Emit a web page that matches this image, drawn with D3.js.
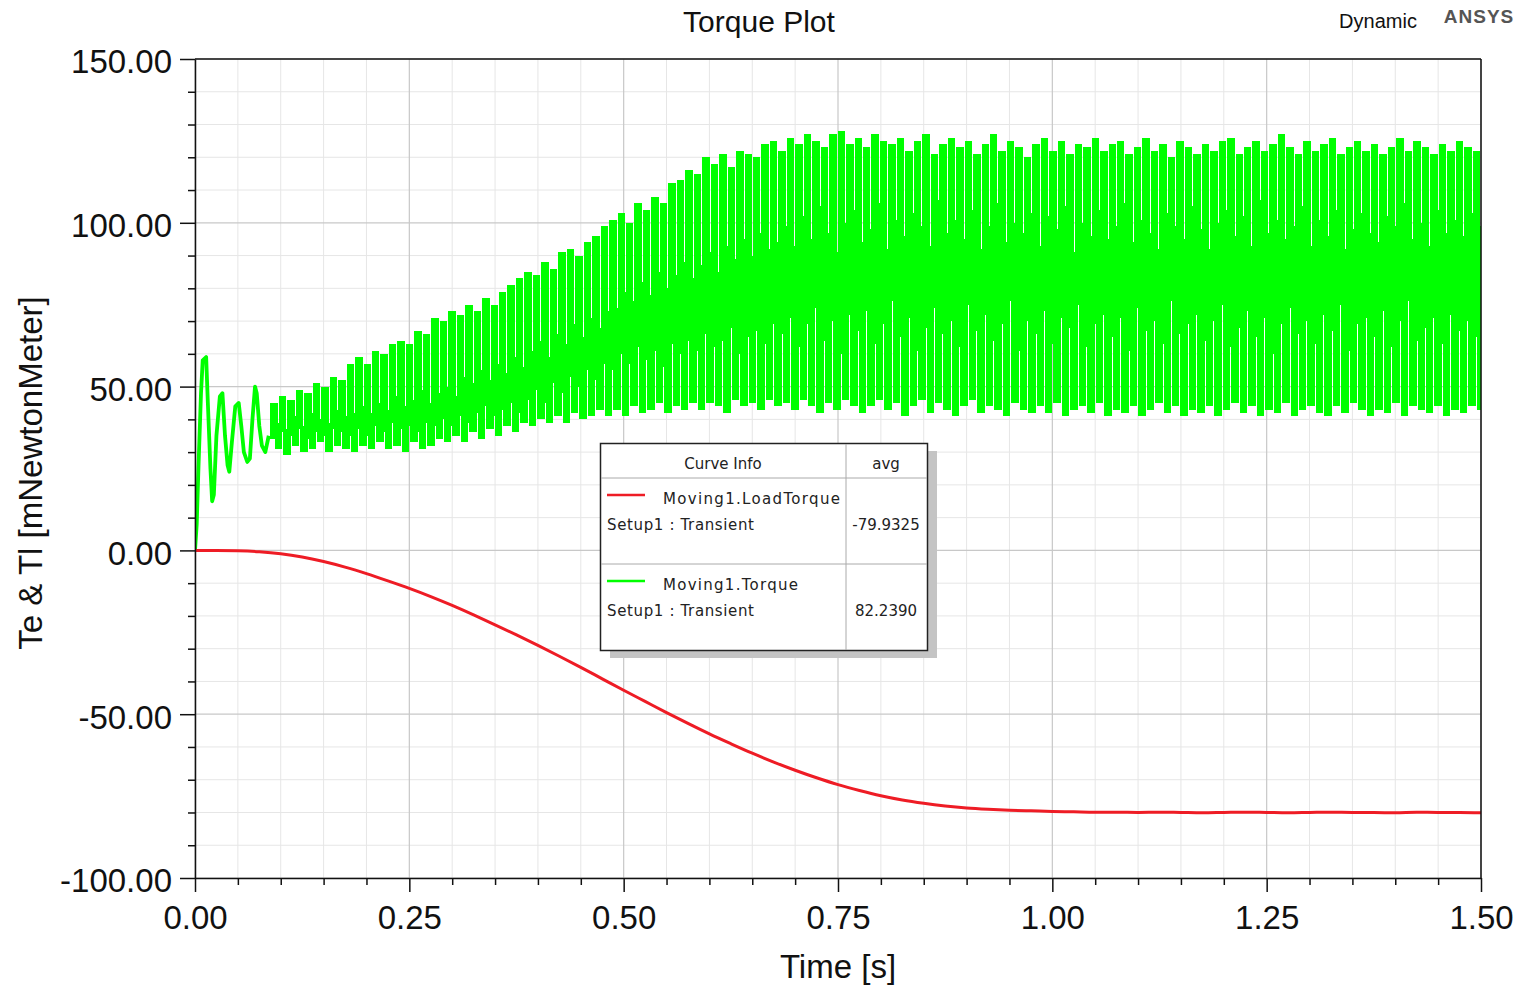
<!DOCTYPE html>
<html><head><meta charset="utf-8">
<script src="https://cdn.jsdelivr.net/npm/d3@7"></script>
<style>
body{margin:0;background:#fff}
svg{display:block}
text{font-family:"Liberation Sans",Arial,sans-serif;fill:#111}
</style>
</head><body>
<svg id="chart" width="1521" height="986"></svg>
<script>
// ---------- data ----------
const xTickValues = [0, 0.25, 0.5, 0.75, 1.0, 1.25, 1.5];
const yTickValues = [-100, -50, 0, 50, 100, 150];

// start-up transient of Moving1.Torque (t < 0.09 s)
const earlyTorqueTime  = [0, 0.002, 0.004, 0.007, 0.009, 0.013, 0.015, 0.018, 0.020, 0.022, 0.025, 0.029, 0.032, 0.035, 0.038, 0.040, 0.043, 0.047, 0.051, 0.054, 0.057, 0.061, 0.064, 0.067, 0.070, 0.072, 0.075, 0.078, 0.082, 0.086];
const earlyTorqueValue = [0, 8, 25, 48, 58, 59, 45, 25, 15, 17, 35, 47, 48, 35, 26, 24, 33, 44, 45, 38, 30, 27, 28, 40, 50, 48, 38, 32, 30, 35];

// ripple cycles of Moving1.Torque from t = 0.088 s to 1.5 s
// main peak / main trough of each cycle
const torquePeaks = [
  45, 47, 46, 49, 48, 51, 50, 53, 52, 57,
  59, 57, 61, 60, 63, 64, 63, 67, 66, 71,
  70, 73, 72, 75, 73, 77, 75, 79, 81, 83,
  85, 84, 88, 86, 91, 92, 90, 94, 96, 99,
  101, 103, 100, 106, 104, 108, 106, 112, 113, 116,
  115, 120, 118, 121, 117, 122, 121, 120, 124, 125,
  122, 126, 124, 127, 125, 123, 127, 128, 124, 126,
  123, 127, 125, 124, 126, 122, 125, 127, 121, 124,
  126, 123, 125, 121, 124, 127, 122, 125, 123, 120,
  124, 126, 122, 125, 121, 124, 123, 126, 122, 124,
  125, 121, 123, 126, 122, 124, 120, 125, 123, 121,
  124, 122, 125, 126, 121, 123, 125, 122, 124, 127,
  123, 121, 125, 122, 124, 126, 121, 123, 125, 122,
  124, 121, 123, 126, 122, 125, 123, 121, 124, 122,
  125, 123, 122
];
const torqueTroughs = [
  31, 29, 32, 30, 31, 33, 30, 32, 31, 30,
  32, 31, 33, 31, 32, 30, 33, 31, 32, 34,
  33, 35, 33, 36, 34, 37, 35, 38, 36, 39,
  38, 40, 39, 41, 39, 42, 40, 41, 43, 41,
  43, 41, 44, 42, 43, 45, 42, 44, 43, 45,
  43, 45, 44, 42, 46, 44, 45, 43, 46, 44,
  45, 43, 46, 44, 42, 45, 43, 46, 44, 42,
  44, 46, 43, 45, 41, 44, 46, 42, 45, 43,
  41, 44, 46, 42, 44, 43, 41, 45, 43, 42,
  44, 42, 45, 41, 43, 44, 42, 45, 41, 43,
  42, 44, 41, 43, 45, 42, 44, 41, 43, 42,
  44, 41, 43, 45, 42, 44, 41, 43, 42, 45,
  41, 43, 44, 42, 41, 44, 42, 45, 43, 41,
  43, 42, 45, 41, 44, 43, 42, 44, 41, 43,
  42, 44, 43
];
// secondary (inner) high / low turning point of each cycle
const torqueInnerHigh = [
  39, 37, 41, 38, 42, 40, 39, 43, 41, 42,
  44, 42, 45, 43, 47, 44, 46, 49, 45, 48,
  50, 47, 53, 51, 55, 52, 57, 54, 59, 56,
  61, 64, 59, 66, 63, 69, 65, 71, 68, 73,
  74, 79, 76, 82, 78, 85, 80, 84, 88, 83,
  87, 91, 85, 93, 89, 95, 90, 97, 92, 94,
  99, 93, 102, 95, 105, 97, 91, 100, 104, 94,
  98, 106, 92, 101, 96, 103, 99, 93, 107, 97,
  101, 95, 104, 92, 99, 106, 94, 100, 97, 103,
  93, 102, 98, 105, 91, 100, 96, 104, 95, 99,
  106, 94, 101, 97, 92, 103, 99, 95, 105, 98,
  92, 100, 104, 96, 102, 93, 107, 97, 101, 95,
  99, 105, 93, 101, 96, 104, 92, 98, 103, 97,
  94, 102, 99, 106, 95, 100, 93, 104, 97, 101,
  96, 103, 99
];
const torqueInnerLow = [
  34, 36, 35, 37, 34, 36, 35, 37, 36, 35,
  37, 35, 38, 36, 39, 37, 38, 36, 39, 38,
  40, 38, 41, 39, 42, 44, 41, 43, 45, 42,
  46, 49, 45, 51, 48, 53, 50, 55, 52, 57,
  55, 60, 57, 62, 58, 61, 56, 63, 60, 64,
  61, 66, 62, 64, 68, 60, 65, 67, 63, 69,
  66, 71, 62, 69, 74, 64, 70, 60, 72, 67,
  73, 63, 69, 76, 65, 71, 61, 68, 74, 66,
  70, 62, 75, 67, 72, 64, 69, 76, 61, 70,
  66, 73, 63, 71, 68, 75, 62, 69, 72, 65,
  71, 61, 74, 67, 70, 63, 76, 66, 69, 72,
  64, 70, 75, 62, 68, 73, 65, 71, 60, 69,
  74, 66, 70, 63, 72, 67, 75, 61, 69, 71,
  65, 73, 62, 70, 76, 64, 68, 71, 63, 72,
  67, 70, 65
];

// Moving1.LoadTorque every 0.025 s
const loadStep = 0.025;
const loadValue = [
  0, 0, -0.1, -0.4, -1.0, -2.0, -3.4, -5.1, -7.1, -9.3,
  -11.6, -14.1, -16.8, -19.7, -22.7, -25.8, -29.0, -32.3, -35.7, -39.2,
  -42.7, -46.1, -49.5, -52.8, -56.0, -59.0, -61.9, -64.6, -67.1, -69.4,
  -71.5, -73.3, -74.9, -76.2, -77.2, -78.0, -78.6, -79.0, -79.3, -79.5,
  -79.7, -79.8, -79.9, -79.9, -80.0, -79.9, -80.0, -80.1, -80.0, -79.9,
  -80.0, -80.1, -80.0, -79.9, -80.0, -80.0, -80.1, -79.9, -80.0, -80.0, -80.1
];

const legendNames = ["Moving1.LoadTorque", "Moving1.Torque"];
const legendSetup = ["Setup1 : Transient", "Setup1 : Transient"];
const legendAvg = ["-79.9325", "82.2390"];
const legendColors = ["#ee1c25", "#00ff00"];

// ---------- layout ----------
const L = 195, R = 1481, T = 59, B = 878;
const svg = d3.select("#chart");
const x = d3.scaleLinear([0, 1.5], [L, R]);
const y = d3.scaleLinear([-100, 150], [B, T]);
const fmt = v => d3.format(".2f")(v).replace("\u2212", "-");

// grid
const minorX = d3.range(0, 1.5001, 0.05).filter(v => Math.abs(v / 0.25 - Math.round(v / 0.25)) > 1e-6);
const minorY = d3.range(-100, 150.001, 10).filter(v => v % 50 !== 0);
const grid = svg.append("g");
grid.selectAll(".mx").data(minorX).join("line")
  .attr("x1", d => x(d)).attr("x2", d => x(d)).attr("y1", T).attr("y2", B)
  .attr("stroke", "#e6e6e6").attr("stroke-width", 1);
grid.selectAll(".my").data(minorY).join("line")
  .attr("y1", d => y(d)).attr("y2", d => y(d)).attr("x1", L).attr("x2", R)
  .attr("stroke", "#e6e6e6").attr("stroke-width", 1);
grid.selectAll(".Mx").data(xTickValues).join("line")
  .attr("x1", d => x(d)).attr("x2", d => x(d)).attr("y1", T).attr("y2", B)
  .attr("stroke", "#c8c8c8").attr("stroke-width", 1.2);
grid.selectAll(".My").data(yTickValues).join("line")
  .attr("y1", d => y(d)).attr("y2", d => y(d)).attr("x1", L).attr("x2", R)
  .attr("stroke", "#c8c8c8").attr("stroke-width", 1.2);

// clip
svg.append("clipPath").attr("id", "plotclip").append("rect")
  .attr("x", L).attr("y", T).attr("width", R - L).attr("height", B - T);
const plot = svg.append("g").attr("clip-path", "url(#plotclip)");

// ---------- Moving1.Torque ----------
const green = "#00ff00";
const cycleStart = 0.088;
const period = (1.5 - cycleStart) / torquePeaks.length;
const barW = x(period) - x(0) - 1;
const bars = plot.append("g").attr("shape-rendering", "crispEdges");

// strokes that reach the main peaks (down to the inner low)
bars.selectAll(".up").data(torquePeaks).join("rect")
  .attr("x", (d, i) => x(cycleStart + i * period))
  .attr("width", barW)
  .attr("y", d => y(d))
  .attr("height", (d, i) => Math.max(1, y(torqueInnerLow[i]) - y(d)))
  .attr("fill", green);
// strokes that reach the main troughs (up to the inner high), half a cycle later
bars.selectAll(".dn").data(torqueTroughs).join("rect")
  .attr("x", (d, i) => x(cycleStart + (i + 0.5) * period))
  .attr("width", barW)
  .attr("y", (d, i) => y(torqueInnerHigh[i]))
  .attr("height", (d, i) => Math.max(1, y(d) - y(torqueInnerHigh[i])))
  .attr("fill", green);

plot.append("path")
  .datum(earlyTorqueTime)
  .attr("fill", "none").attr("stroke", green).attr("stroke-width", 3.8)
  .attr("stroke-linejoin", "round")
  .attr("d", d3.line().x(d => x(d)).y((d, i) => y(earlyTorqueValue[i])));

// ---------- Moving1.LoadTorque ----------
plot.append("path")
  .datum(loadValue)
  .attr("fill", "none").attr("stroke", legendColors[0]).attr("stroke-width", 3)
  .attr("d", d3.line().curve(d3.curveMonotoneX).x((d, i) => x(i * loadStep)).y(d => y(d)));

// ---------- axes ----------
const yAxis = svg.append("g").attr("transform", `translate(${L},0)`)
  .call(d3.axisLeft(y).tickValues(yTickValues).tickSize(15).tickSizeOuter(0).tickPadding(8).tickFormat(fmt));
svg.append("g").attr("transform", `translate(${L},0)`)
  .call(d3.axisLeft(y).tickValues(minorY).tickSize(7).tickSizeOuter(0).tickFormat(""))
  .select(".domain").remove();
const xAxis = svg.append("g").attr("transform", `translate(0,${B})`)
  .call(d3.axisBottom(x).tickValues(xTickValues).tickSize(14).tickSizeOuter(0).tickPadding(14).tickFormat(fmt));
svg.append("g").attr("transform", `translate(0,${B})`)
  .call(d3.axisBottom(x).tickValues(minorX).tickSize(7).tickSizeOuter(0).tickFormat(""))
  .select(".domain").remove();
svg.selectAll(".tick line").attr("stroke", "#111").attr("stroke-width", 1.5);
svg.selectAll(".domain").attr("stroke", "#111").attr("stroke-width", 1.5);
[yAxis, xAxis].forEach(a => a.selectAll("text")
  .style("font-family", "'Liberation Sans', Arial, sans-serif")
  .style("font-size", "33px").attr("fill", "#111"));
yAxis.selectAll("text").attr("dy", "0.42em");

// frame top/right
svg.append("line").attr("x1", L).attr("x2", R).attr("y1", T).attr("y2", T).attr("stroke", "#111").attr("stroke-width", 1.5);
svg.append("line").attr("x1", R).attr("x2", R).attr("y1", T).attr("y2", B).attr("stroke", "#111").attr("stroke-width", 1.5);

// ---------- titles ----------
svg.append("text").attr("x", 759).attr("y", 32).attr("text-anchor", "middle")
  .style("font-size", "30px").text("Torque Plot");
svg.append("text").attr("x", 1378).attr("y", 28).attr("text-anchor", "middle")
  .style("font-size", "20px").text("Dynamic");
svg.append("text").attr("x", 1479).attr("y", 23).attr("text-anchor", "middle")
  .style("font-size", "19px").style("font-weight", "bold").style("letter-spacing", "1px")
  .style("fill", "#555").text("ANSYS");
svg.append("text").attr("x", 838).attr("y", 978).attr("text-anchor", "middle")
  .style("font-size", "33px").text("Time [s]");
svg.append("text").attr("transform", "translate(42,473) rotate(-90)").attr("text-anchor", "middle")
  .style("font-size", "33px").text("Te & Tl [mNewtonMeter]");

// ---------- legend ----------
const lf = "'DejaVu Sans', Verdana, sans-serif";
const lg = svg.append("g");
lg.append("rect").attr("x", 610).attr("y", 451).attr("width", 327).attr("height", 207).attr("fill", "#c4c4c4");
lg.append("rect").attr("x", 600.5).attr("y", 443.5).attr("width", 327).attr("height", 207)
  .attr("fill", "#fff").attr("stroke", "#222").attr("stroke-width", 1.5);
lg.append("line").attr("x1", 846).attr("x2", 846).attr("y1", 444).attr("y2", 650).attr("stroke", "#aaa");
lg.append("line").attr("x1", 601).attr("x2", 927).attr("y1", 478).attr("y2", 478).attr("stroke", "#aaa");
lg.append("line").attr("x1", 601).attr("x2", 927).attr("y1", 564).attr("y2", 564).attr("stroke", "#aaa");
lg.append("text").attr("x", 723).attr("y", 469).attr("text-anchor", "middle")
  .style("font-family", lf).style("font-size", "15px").style("fill", "#222").text("Curve Info");
lg.append("text").attr("x", 886).attr("y", 469).attr("text-anchor", "middle")
  .style("font-family", lf).style("font-size", "15px").style("fill", "#222").text("avg");
const rowY = [495, 581];
legendNames.forEach((n, i) => {
  const yy = rowY[i];
  lg.append("line").attr("x1", 607).attr("x2", 645).attr("y1", yy).attr("y2", yy)
    .attr("stroke", legendColors[i]).attr("stroke-width", 2.5);
  lg.append("text").attr("x", 663).attr("y", yy + 9)
    .style("font-family", lf).style("font-size", "15px").style("fill", "#222")
    .attr("textLength", i === 0 ? 177 : 135).attr("lengthAdjust", "spacing").text(n);
  lg.append("text").attr("x", 607).attr("y", yy + 35)
    .style("font-family", lf).style("font-size", "15px").style("fill", "#222")
    .attr("textLength", 147).attr("lengthAdjust", "spacing").text(legendSetup[i]);
  lg.append("text").attr("x", 886).attr("y", yy + 35).attr("text-anchor", "middle")
    .style("font-family", lf).style("font-size", "15px").style("fill", "#222")
    .text(legendAvg[i]);
});
</script>
</body></html>
